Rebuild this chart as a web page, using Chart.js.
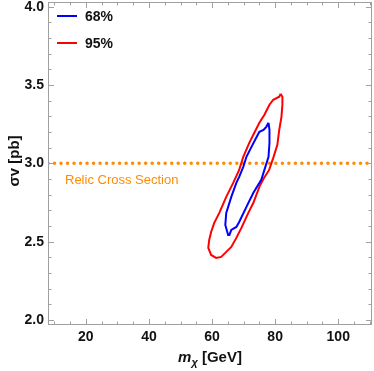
<!DOCTYPE html>
<html>
<head>
<meta charset="utf-8">
<script src="https://cdn.jsdelivr.net/npm/chart.js@4.4.0/dist/chart.umd.min.js"></script>
<style>
    body { margin: 0; background: #fff; }
    canvas { display: block; }
</style>
</head>
<body>
<canvas id="chart" width="374" height="371"></canvas>
<script>
// 95% contour (clockwise from the top)
const redX = [81.7, 82.3, 82.3, 82.0, 81.3, 80.7, 79.4, 78.1, 76.4, 75.0, 73.1, 71.5, 69.3, 67.7, 66.1, 64.5, 62.9, 61.3, 59.7, 58.8, 59.1, 59.7, 60.7, 62.3, 64.5, 66.7, 68.6, 69.9, 71.8, 73.4, 75.0, 76.6, 78.2, 79.4, 81.3];
const redY = [3.444, 3.425, 3.374, 3.297, 3.214, 3.118, 3.035, 2.958, 2.905, 2.850, 2.748, 2.684, 2.588, 2.524, 2.466, 2.435, 2.403, 2.396, 2.415, 2.460, 2.511, 2.562, 2.620, 2.684, 2.786, 2.875, 2.958, 3.042, 3.131, 3.195, 3.259, 3.310, 3.374, 3.406, 3.425];

// 68% contour
const blueX = [77.9, 78.2, 78.2, 77.9, 76.6, 75.6, 73.1, 70.9, 68.6, 67.7, 66.1, 65.5, 65.1, 64.2, 64.5, 66.1, 67.7, 68.6, 69.9, 70.9, 72.5, 74.0, 75.0, 76.3, 77.2];
const blueY = [3.259, 3.214, 3.131, 3.042, 2.958, 2.895, 2.812, 2.722, 2.626, 2.594, 2.575, 2.543, 2.543, 2.607, 2.684, 2.786, 2.875, 2.914, 2.978, 3.042, 3.105, 3.163, 3.201, 3.214, 3.233];

const relicValue = 3.0;
const xRange = [8, 110.7];
const yRange = [1.968, 4.03];
const xTicks = [20, 40, 60, 80, 100];
const yTicks = [2.0, 2.5, 3.0, 3.5, 4.0];

const FONT = '"Liberation Sans", Arial, sans-serif';
const ORANGE = '#ff8c00';
const FRAME = '#a0a0a0';

function toPoints(xs, ys) {
    const pts = xs.map((x, i) => ({ x: x, y: ys[i] }));
    pts.push(pts[0]);
    return pts;
}

const framePlugin = {
    id: 'framePlugin',
    afterDraw(chart) {
        const ctx = chart.ctx;
        const area = chart.chartArea;
        const xs = chart.scales.x;
        const ys = chart.scales.y;

        ctx.save();
        ctx.strokeStyle = FRAME;
        ctx.lineWidth = 1;
        ctx.strokeRect(area.left + 0.5, area.top + 0.5, area.right - area.left - 1, area.bottom - area.top - 1);

        // ticks pointing inward on all four sides
        ctx.beginPath();
        for (let v = 10; v <= 110; v += 5) {
            const px = Math.round(xs.getPixelForValue(v)) + 0.5;
            const len = v % 20 === 0 ? 6 : 3.5;
            ctx.moveTo(px, area.bottom);
            ctx.lineTo(px, area.bottom - len);
            ctx.moveTo(px, area.top);
            ctx.lineTo(px, area.top + len);
        }
        for (let i = 20; i <= 40; i++) {
            const v = i / 10;
            const py = Math.round(ys.getPixelForValue(v)) + 0.5;
            const len = i % 5 === 0 ? 6 : 3.5;
            ctx.moveTo(area.left, py);
            ctx.lineTo(area.left + len, py);
            ctx.moveTo(area.right, py);
            ctx.lineTo(area.right - len, py);
        }
        ctx.stroke();

        // legend
        const items = [['68%', 'blue', 16], ['95%', 'red', 43]];
        ctx.lineWidth = 2;
        ctx.font = 'bold 14px ' + FONT;
        ctx.textBaseline = 'middle';
        ctx.textAlign = 'left';
        items.forEach(([label, color, y]) => {
            ctx.strokeStyle = color;
            ctx.beginPath();
            ctx.moveTo(57, y);
            ctx.lineTo(77, y);
            ctx.stroke();
            ctx.fillStyle = '#111';
            ctx.fillText(label, 85, y + 1);
        });

        // relic label
        ctx.fillStyle = ORANGE;
        ctx.font = '13px ' + FONT;
        ctx.textBaseline = 'alphabetic';
        ctx.fillText('Relic Cross Section', 65, 184);

        // y title
        ctx.fillStyle = '#111';
        ctx.save();
        ctx.translate(15, 161);
        ctx.rotate(-Math.PI / 2);
        ctx.textAlign = 'center';
        ctx.textBaseline = 'middle';
        ctx.font = 'bold 15px ' + FONT;
        ctx.fillText('σv [pb]', 0, 0);
        ctx.restore();

        // x title: m_χ [GeV]
        const parts = [
            ['m', 'italic bold 15px ' + FONT, 0],
            ['χ', 'italic bold 11px ' + FONT, 4],
            [' [GeV]', 'bold 15px ' + FONT, 0]
        ];
        let total = 0;
        parts.forEach(p => { ctx.font = p[1]; total += ctx.measureText(p[0]).width; });
        let x = 210 - total / 2;
        ctx.textAlign = 'left';
        ctx.textBaseline = 'alphabetic';
        parts.forEach(p => {
            ctx.font = p[1];
            ctx.fillText(p[0], x, 362 + p[2]);
            x += ctx.measureText(p[0]).width;
        });
        ctx.restore();
    }
};

const ctx = document.getElementById('chart').getContext('2d');

new Chart(ctx, {
    type: 'scatter',
    data: {
        datasets: [{
            label: '68%',
            data: toPoints(blueX, blueY),
            showLine: true,
            borderColor: 'blue',
            borderWidth: 2,
            pointRadius: 0,
            tension: 0,
            order: 1
        }, {
            label: '95%',
            data: toPoints(redX, redY),
            showLine: true,
            borderColor: 'red',
            borderWidth: 2,
            pointRadius: 0,
            tension: 0,
            order: 2
        }, {
            label: 'Relic Cross Section',
            data: [{ x: xRange[0], y: relicValue }, { x: xRange[1], y: relicValue }],
            showLine: true,
            borderColor: ORANGE,
            borderWidth: 3.5,
            borderDash: [0.01, 6.5],
            borderCapStyle: 'round',
            pointRadius: 0,
            order: 3
        }]
    },
    options: {
        responsive: false,
        animation: false,
        events: [],
        layout: { padding: { top: 2, right: 2, left: 0, bottom: 0 } },
        plugins: {
            legend: { display: false },
            tooltip: { enabled: false }
        },
        scales: {
            x: {
                type: 'linear',
                min: xRange[0],
                max: xRange[1],
                grid: { display: false, drawTicks: false },
                border: { display: false },
                afterBuildTicks: s => { s.ticks = xTicks.map(v => ({ value: v })); },
                afterFit: s => { s.height = 46; s.paddingLeft = 0; s.paddingRight = 0; },
                ticks: {
                    padding: 4,
                    color: '#111',
                    font: { family: FONT, size: 14, weight: 'bold' },
                    callback: v => String(v)
                }
            },
            y: {
                type: 'linear',
                min: yRange[0],
                max: yRange[1],
                grid: { display: false, drawTicks: false },
                border: { display: false },
                afterBuildTicks: s => { s.ticks = yTicks.map(v => ({ value: v })); },
                afterFit: s => { s.width = 48; s.paddingTop = 0; s.paddingBottom = 0; },
                ticks: {
                    padding: 4,
                    color: '#111',
                    font: { family: FONT, size: 14, weight: 'bold' },
                    callback: v => v.toFixed(1)
                }
            }
        }
    },
    plugins: [framePlugin]
});
</script>
</body>
</html>
